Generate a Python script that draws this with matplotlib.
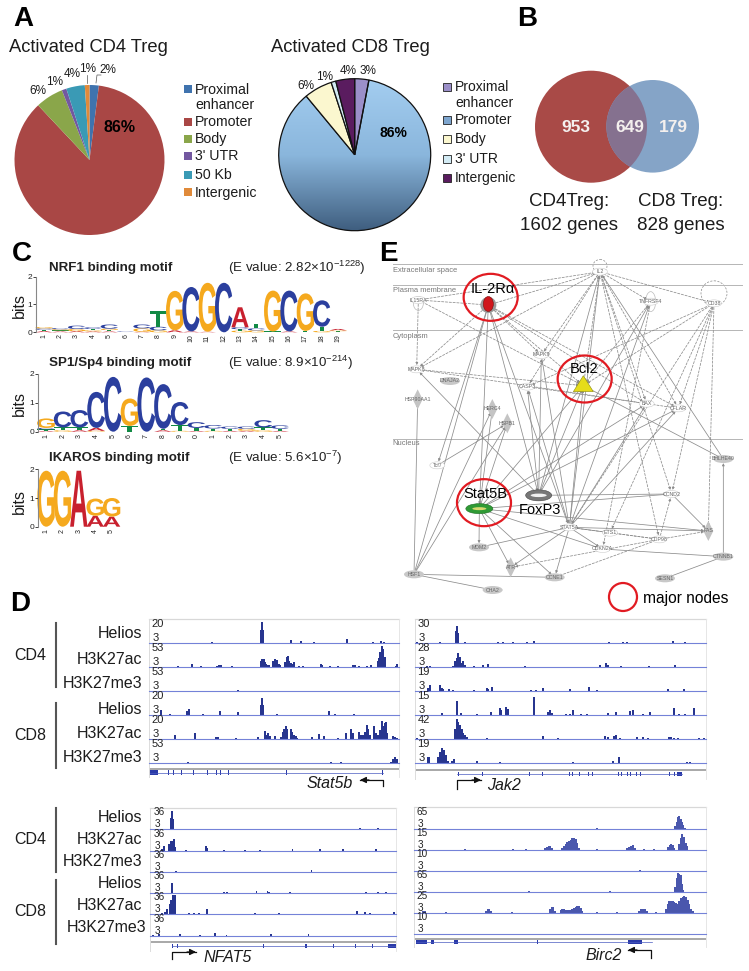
import numpy as np
import matplotlib
matplotlib.use('Agg')
import matplotlib.pyplot as plt
from matplotlib.patches import Circle, Ellipse, Rectangle, PathPatch, Polygon
from matplotlib.textpath import TextPath
from matplotlib.font_manager import FontProperties
from matplotlib.transforms import Affine2D

plt.rcParams['font.family'] = ['Liberation Sans', 'DejaVu Sans']
plt.rcParams['mathtext.fontset'] = 'custom'
plt.rcParams['mathtext.rm'] = 'Liberation Sans'
plt.rcParams['mathtext.default'] = 'rm'

W, H = 749, 971
DARK = '#1c1c1c'

# ---------- Panel A data
pie_cd4_labels = ['Proximal\nenhancer', 'Promoter', 'Body', "3' UTR", '50 Kb', 'Intergenic']
pie_cd4_values = [2, 86, 6, 1, 4, 1]
pie_cd4_colors = ['#3f73ae', '#a94745', '#8aa64a', '#7358a0', '#3a9ab5', '#e08a3a']
pie_cd8_labels = ['Proximal\nenhancer', 'Promoter', 'Body', "3' UTR", 'Intergenic']
pie_cd8_values = [3, 86, 6, 1, 4]
pie_cd8_colors = ['#9b8fc9', '#7ea6cf', '#fbf7cf', '#d3ebf4', '#5a1c5f']

# ---------- Panel B data
venn_counts = [953, 649, 179]

# ---------- Panel C data (bits, stacked bottom to top)
logo_nrf1 = [
    [('A', .04), ('T', .05), ('C', .05), ('G', .05)],
    [('A', .03), ('T', .04), ('G', .04), ('C', .04)],
    [('A', .04), ('G', .08), ('C', .12)],
    [('A', .03), ('G', .04), ('T', .05), ('C', .06)],
    [('A', .03), ('T', .05), ('G', .05), ('C', .15)],
    [('T', .01), ('C', .02)],
    [('A', .02), ('G', .12), ('C', .14)],
    [('G', .07), ('C', .13), ('T', .55)],
    [('A', .07), ('G', 1.42)],
    [('A', .03), ('C', 1.6)],
    [('A', .02), ('G', 1.76)],
    [('C', 1.78)],
    [('G', .06), ('T', .05), ('C', .07), ('A', .72)],
    [('G', .07), ('C', .07), ('T', .17)],
    [('T', .03), ('G', 1.47)],
    [('A', .03), ('C', 1.47)],
    [('T', .05), ('G', 1.35)],
    [('G', .05), ('T', .15), ('C', .95)],
    [('T', .04), ('G', .03), ('A', .05)],
]
logo_sp1 = [
    [('A', .03), ('T', .05), ('C', .05), ('G', .33)],
    [('G', .05), ('T', .1), ('C', .55)],
    [('A', .05), ('T', .1), ('C', .6)],
    [('G', .03), ('A', .1), ('C', 1.25)],
    [('C', 1.9)],
    [('T', .2), ('G', .95)],
    [('C', 1.88)],
    [('A', .05), ('T', .05), ('C', 1.55)],
    [('G', .03), ('T', .2), ('C', .8)],
    [('A', .03), ('T', .1), ('C', .2)],
    [('G', .03), ('T', .08), ('C', .12)],
    [('A', .03), ('T', .07), ('C', .08)],
    [('A', .03), ('G', .07), ('C', .08)],
    [('G', .05), ('T', .1), ('C', .25)],
    [('A', .03), ('T', .07), ('C', .12)],
]
logo_ikaros = [
    [('G', 1.95)], [('G', 1.95)], [('A', 1.95)],
    [('A', .38), ('G', .6)], [('A', .35), ('G', .65)],
]
logo_sp1_ticks = ['1', '2', '3', '4', '5', '6', '7', '8', '9', '0', '1', '2', '3', '4', '5']
motif_titles = ['NRF1 binding motif', 'SP1/Sp4 binding motif', 'IKAROS binding motif']
motif_evalues = [r'(E value: 2.82$\times$10$^{-1228}$)', r'(E value: 8.9$\times$10$^{-214}$)', r'(E value: 5.6$\times$10$^{-7}$)']

# ---------- Panel D data: (position, signal) read from each browser track
stat5b_tracks = [
    [(600, 1), (635, 3), (762, 1), (783, 40), (785, 64), (788, 40), (872, 8), (904, 5), (942, 2), (1042, 11), (1118, 4), (1142, 5), (1152, 2)],
    [(533, 4), (547, 2), (577, 9), (604, 5), (650, 3), (657, 6), (663, 6), (695, 5), (708, 2), (740, 1), (782, 18), (787, 25), (791, 25), (795, 15), (799, 10), (803, 7), (808, 7), (820, 18), (825, 26), (830, 22), (836, 10), (840, 8), (855, 15), (860, 30), (864, 33), (868, 20), (873, 13), (878, 10), (883, 17), (897, 4), (910, 4), (962, 10), (966, 6), (990, 4), (1015, 3), (1058, 6), (1064, 8), (1077, 5), (1100, 3), (1112, 6), (1133, 20), (1137, 28), (1141, 45), (1146, 65), (1150, 55), (1154, 30), (1188, 5), (1192, 9)],
    [(680, 1), (713, 4)],
    [(483, 16), (510, 4), (562, 14), (566, 20), (610, 3), (660, 14), (714, 9), (783, 30), (785, 52), (788, 30), (831, 4), (870, 2), (988, 12), (1005, 3), (1062, 3)],
    [(524, 12), (555, 2), (585, 20), (648, 8), (653, 6), (708, 3), (775, 8), (795, 25), (800, 14), (805, 18), (810, 10), (826, 10), (843, 8), (848, 22), (852, 30), (857, 40), (861, 30), (872, 32), (877, 22), (882, 12), (888, 10), (892, 5), (937, 7), (958, 16), (972, 10), (1013, 5), (1038, 18), (1054, 30), (1060, 18), (1076, 22), (1082, 12), (1090, 12), (1095, 22), (1100, 42), (1104, 30), (1110, 12), (1122, 40), (1128, 20), (1134, 14), (1140, 28), (1146, 56), (1150, 40), (1154, 50), (1158, 52), (1162, 20), (1178, 10), (1185, 6), (1192, 5)],
    [(565, 3), (992, 3), (1022, 3), (1060, 2), (1172, 4), (1180, 12), (1186, 20), (1192, 12)],
]
jak2_tracks = [
    [(50, 4), (120, 3), (168, 35), (171, 52), (174, 30), (195, 3), (295, 2), (308, 2), (340, 2), (380, 2), (402, 7), (628, 2), (670, 4), (680, 2), (818, 6), (855, 2)],
    [(80, 3), (90, 3), (158, 5), (165, 18), (170, 28), (175, 42), (180, 30), (185, 12), (190, 18), (195, 6), (222, 5), (248, 6), (263, 10), (290, 2), (352, 2), (375, 3), (485, 2), (600, 6), (618, 12), (623, 6), (647, 2), (664, 3), (748, 3), (780, 1), (825, 7)],
    [(85, 10), (90, 18), (120, 20), (125, 10), (130, 6), (148, 7), (158, 3), (222, 5), (260, 9), (265, 7), (275, 13), (392, 4), (407, 3), (430, 10), (511, 6), (566, 12), (590, 3), (804, 8), (852, 6), (892, 2)],
    [(125, 8), (170, 42), (183, 8), (207, 2), (230, 3), (272, 10), (300, 22), (304, 16), (318, 24), (323, 20), (402, 55), (445, 9), (450, 15), (455, 8), (497, 4), (510, 5), (519, 16), (543, 4), (560, 5), (624, 8), (648, 9), (690, 14), (698, 16), (730, 3), (750, 10), (787, 2), (822, 22), (836, 4), (855, 3), (865, 2), (881, 22)],
    [(50, 3), (165, 30), (170, 60), (175, 52), (180, 42), (185, 30), (190, 20), (195, 14), (200, 8), (260, 4), (300, 2), (320, 2), (348, 2), (428, 9), (473, 5), (615, 9), (625, 6), (642, 9), (647, 12), (660, 4), (695, 2), (712, 6), (730, 6), (745, 3), (806, 7), (812, 8), (822, 4), (835, 3), (870, 2), (898, 4), (912, 3)],
    [(83, 20), (88, 18), (115, 20), (120, 35), (125, 45), (130, 22), (133, 40), (138, 25), (145, 6), (155, 6), (162, 12), (183, 2), (230, 6), (300, 4), (386, 2), (520, 3), (640, 8), (656, 18), (835, 2), (862, 5), (870, 5)],
]
nfat5_tracks = [
    [(513, 35), (516, 55), (519, 30), (948, 1), (1033, 2), (1079, 3), (1134, 4)],
    [(486, 5), (494, 14), (509, 20), (513, 28), (518, 30), (522, 36), (527, 10), (560, 2), (618, 14), (622, 8), (673, 1), (735, 1), (780, 3), (878, 5), (960, 4), (1030, 6), (1129, 5)],
    [(530, 3), (808, 1), (890, 1), (935, 7)],
    [(516, 32), (578, 2), (640, 2), (650, 2), (672, 3), (682, 4), (770, 6), (803, 8), (808, 4), (822, 2), (870, 4), (942, 2), (1098, 4), (1134, 5), (1158, 4)],
    [(488, 3), (495, 6), (503, 16), (510, 30), (515, 44), (520, 58), (525, 58), (568, 3), (582, 3), (598, 3), (622, 15), (640, 2), (740, 2), (765, 3), (780, 2), (837, 5), (1072, 10), (1096, 8), (1110, 3), (1182, 7)],
    [(460, 1), (478, 6), (540, 4), (600, 3), (645, 7), (680, 2), (813, 5), (926, 4)],
]
birc2_tracks = [
    [(590, 1), (826, 8), (830, 20), (834, 34), (838, 38), (842, 30), (846, 20), (850, 10), (854, 3)],
    [(196, 2), (340, 2), (378, 2), (436, 4), (441, 9), (446, 12), (451, 10), (456, 5), (487, 4), (492, 12), (497, 18), (502, 22), (507, 26), (512, 30), (517, 34), (522, 36), (527, 32), (532, 20), (537, 6), (590, 3), (680, 6), (686, 9), (692, 11), (698, 13), (704, 6), (732, 3), (761, 2), (804, 8), (809, 14), (813, 18), (818, 14), (823, 6), (837, 18), (842, 34), (847, 46), (852, 38), (857, 20), (862, 10)],
    [(720, 2)],
    [(388, 1), (630, 3), (826, 14), (830, 40), (834, 56), (838, 54), (842, 50), (846, 22), (850, 6)],
    [(70, 6), (75, 4), (138, 3), (258, 6), (263, 12), (268, 10), (273, 4), (336, 2), (450, 12), (455, 18), (460, 17), (465, 5), (482, 8), (487, 12), (492, 12), (497, 9), (502, 8), (507, 8), (512, 9), (517, 10), (522, 14), (527, 16), (532, 20), (537, 20), (542, 14), (546, 5), (590, 2), (650, 2), (716, 6), (722, 10), (728, 12), (734, 10), (740, 5), (769, 2), (798, 10), (803, 26), (808, 34), (813, 36), (818, 34), (823, 32), (828, 28), (833, 26), (838, 36), (843, 44), (848, 48), (853, 50), (858, 48), (863, 38), (868, 26), (873, 12), (878, 4)],
    [],
]
stat5b_scale = ['20', '53', '53', '20', '20', '53']
jak2_scale = ['30', '28', '19', '15', '42', '19']
nfat5_scale = ['36', '36', '36', '36', '36', '36']
birc2_scale = ['65', '15', '10', '65', '25', '10']
stat5b_exons = [(460, 26), (505, 2), (520, 2), (545, 2), (580, 2), (600, 2), (606, 2), (612, 2), (618, 2), (622, 2), (650, 2), (662, 2), (685, 2), (720, 2), (860, 5), (1148, 2)]
jak2_exons = [(175, 3), (248, 2), (288, 2), (388, 2), (428, 2), (447, 2), (508, 2), (518, 2), (528, 2), (538, 2), (552, 2), (566, 2), (578, 2), (606, 2), (618, 2), (645, 2), (655, 2), (665, 2), (683, 3), (692, 3), (710, 3), (722, 3), (808, 2), (822, 3), (838, 14)]
nfat5_exons = [(518, 4), (533, 3), (792, 2), (918, 5), (972, 2), (1000, 2), (1032, 2), (1066, 3), (1092, 2), (1117, 2), (1177, 23)]
birc2_exons = [(64, 32), (80, 4), (99, 9), (168, 10), (357, 2), (412, 2), (706, 42)]

# ---------- Panel E data (node name, x, y, kind)
net_nodes = {
    'IL2': (660, 95, 'open'), 'IL15RA': (115, 180, 'open'), 'IL2RA': (325, 195, 'red'),
    'TNFRSF4': (812, 185, 'open'), 'CD38': (1002, 190, 'open'), 'MAPK9': (484, 345, 'open'),
    'MAPK8': (110, 388, 'open'), 'DNAJA2': (210, 423, 'gray'), 'CASP3': (442, 440, 'open'),
    'BCL2': (610, 437, 'yellow'), 'HSP90AA1': (113, 478, 'diamond'), 'HERC4': (337, 507, 'diamond'),
    'HSPB1': (382, 550, 'diamond'), 'BAX': (800, 491, 'open'), 'CFLAR': (895, 505, 'open'),
    'Tcf7': (172, 676, 'open'), 'BHLHE40': (1030, 657, 'gray'), 'FOXP3': (476, 766, 'foxp3'),
    'STAT5B': (298, 806, 'green'), 'CCND2': (875, 762, 'open'), 'STAT5A': (568, 862, 'open'),
    'ETS1': (690, 878, 'open'), 'FAS': (985, 873, 'diamond'), 'CDP98': (838, 898, 'open'),
    'MDM2': (297, 922, 'gray'), 'CDKN2A': (668, 927, 'open'), 'ATR': (392, 982, 'diamond'),
    'CTNNB1': (1030, 950, 'gray'), 'CCNE1': (524, 1012, 'gray'), 'HSF1': (102, 1003, 'gray'),
    'CHA2': (338, 1050, 'gray'), 'SESN1': (855, 1015, 'gray'),
}
net_hidden_labels = ['IL2RA', 'BCL2', 'STAT5B', 'FOXP3']
net_solid = [
    ('IL2RA', 'Tcf7'), ('IL2RA', 'STAT5B'), ('IL2RA', 'FOXP3'), ('HSF1', 'IL2RA'), ('HSF1', 'HSP90AA1'),
    ('HSF1', 'CCNE1'), ('HSF1', 'CHA2'), ('HSF1', 'HERC4'), ('HSF1', 'HSPB1'), ('Tcf7', 'HSPB1'),
    ('STAT5B', 'BCL2'), ('STAT5B', 'HSPB1'), ('STAT5B', 'BAX'), ('STAT5B', 'CFLAR'), ('STAT5B', 'MDM2'),
    ('STAT5B', 'ATR'), ('STAT5B', 'CCNE1'), ('STAT5B', 'CDKN2A'), ('STAT5B', 'CCND2'), ('STAT5B', 'FAS'),
    ('STAT5B', 'HERC4'), ('FOXP3', 'MAPK8'), ('FOXP3', 'BCL2'), ('FOXP3', 'IL2'), ('FOXP3', 'TNFRSF4'),
    ('FOXP3', 'CASP3'), ('STAT5A', 'BCL2'), ('STAT5A', 'IL2'), ('STAT5A', 'TNFRSF4'), ('STAT5A', 'BAX'),
    ('STAT5A', 'CFLAR'), ('STAT5A', 'CASP3'), ('STAT5A', 'MDM2'), ('STAT5A', 'ATR'), ('STAT5A', 'CCNE1'),
    ('STAT5A', 'ETS1'), ('STAT5A', 'FAS'), ('STAT5A', 'CDKN2A'), ('BHLHE40', 'BCL2'), ('BHLHE40', 'IL2'),
    ('CTNNB1', 'BHLHE40'), ('CTNNB1', 'CDKN2A'), ('CTNNB1', 'SESN1'), ('CCND2', 'FAS'), ('MAPK9', 'STAT5A'),
    ('FOXP3', 'MAPK9'), ('FOXP3', 'CCND2'), ('IL2RA', 'STAT5A'),
]
net_dashed = [
    ('IL2RA', 'IL2'), ('IL15RA', 'IL2'), ('IL15RA', 'IL2RA'), ('IL15RA', 'MAPK8'), ('IL15RA', 'BCL2'),
    ('IL2RA', 'MAPK8'), ('IL2RA', 'MAPK9'), ('IL2RA', 'BCL2'), ('IL2RA', 'CFLAR'), ('IL2RA', 'BAX'),
    ('IL2', 'MAPK8'), ('IL2', 'MAPK9'), ('IL2', 'TNFRSF4'), ('IL2', 'CD38'), ('IL2', 'CASP3'),
    ('IL2', 'BCL2'), ('IL2', 'BAX'), ('IL2', 'CFLAR'), ('IL2', 'CDP98'), ('IL2', 'CCND2'),
    ('CD38', 'BCL2'), ('CD38', 'CASP3'), ('CD38', 'CFLAR'), ('CD38', 'CCND2'), ('CD38', 'FAS'),
    ('CD38', 'ETS1'), ('CD38', 'STAT5A'), ('TNFRSF4', 'BCL2'), ('TNFRSF4', 'CDKN2A'), ('MAPK8', 'BCL2'),
    ('CFLAR', 'MAPK8'), ('CDP98', 'CCND2'), ('CDP98', 'ETS1'), ('CDP98', 'FAS'), ('CDP98', 'ATR'),
    ('CDP98', 'CCNE1'), ('CDP98', 'STAT5A'), ('BAX', 'CASP3'),
]
net_compartments = ['Extracellular space', 'Plasma membrane', 'Cytoplasm', 'Nucleus']

# ---------- Figure
fig = plt.figure(figsize=(W / 100, H / 100), dpi=100, facecolor='white')


def axes_px(x0, y0, x1, y1, **kw):
    return fig.add_axes([x0 / W, 1 - y1 / H, (x1 - x0) / W, (y1 - y0) / H], **kw)


ov = axes_px(0, 0, W, H)
ov.set_xlim(0, W)
ov.set_ylim(H, 0)
ov.axis('off')
ov.set_zorder(5)
ov.patch.set_alpha(0)


def T(x, y, s, size=10, ha='left', va='center', **kw):
    kw.setdefault('color', DARK)
    return ov.text(x, y, s, fontsize=size, ha=ha, va=va, **kw)


for letter, lx, ly in [('A', 23, 19), ('B', 527, 19), ('C', 22, 254), ('D', 20, 604), ('E', 388, 254)]:
    T(lx, ly, letter, size=20, ha='center', weight='bold', color='black')


# ---------- Panel A
def make_pie(cx, cy, r, values, colors, edge):
    a = axes_px(cx - r * 1.25, cy - r * 1.25, cx + r * 1.25, cy + r * 1.25)
    wedges, _ = a.pie(values, colors=colors, startangle=90, counterclock=False, radius=1,
                      wedgeprops=dict(edgecolor=edge, linewidth=0.9 if edge != 'none' else 0))
    a.set_xlim(-1.25, 1.25)
    a.set_ylim(-1.25, 1.25)
    return a, wedges


a1, _ = make_pie(89.5, 160, 75, pie_cd4_values, pie_cd4_colors, 'none')
a2, w2 = make_pie(354.7, 154.7, 76, pie_cd8_values, pie_cd8_colors, '#111111')
grad = np.linspace(0, 1, 200)[:, None]
cmap = matplotlib.colors.LinearSegmentedColormap.from_list('g', ['#a3cdf0', '#8ab6dc', '#3f5e7f'])
im = a2.imshow(grad, extent=[-1, 1, -1, 1], cmap=cmap, aspect='auto', origin='upper', zorder=0.5)
w2[1].set_facecolor('none')
im.set_clip_path(w2[1])
a2.set_xlim(-1.25, 1.25)
a2.set_ylim(-1.25, 1.25)

T(9, 47, 'Activated CD4 Treg', size=13.2)
T(271, 47, 'Activated CD8 Treg', size=13.2)

for s, x, y in [('6%', 38, 91), ('1%', 55, 82), ('4%', 72, 74), ('1%', 88, 69), ('2%', 108, 70)]:
    T(x, y, s, size=8.5, ha='center')
ov.plot([86.5, 86.5], [75, 83], color='#555', lw=0.5)
ov.plot([96, 97, 101], [83, 75, 75], color='#555', lw=0.5)
T(120, 127, '86%', size=11.5, ha='center', weight='bold', color='black')
for s, x, y in [('6%', 306, 86), ('1%', 325, 77), ('4%', 348, 71), ('3%', 368, 71)]:
    T(x, y, s, size=8.5, ha='center')
T(393.5, 133, '86%', size=10, ha='center', weight='bold', color='black')

leg1_y = [89, 122, 139, 156.5, 175, 192.5]
for lab, col, y in zip(pie_cd4_labels, pie_cd4_colors, leg1_y):
    ov.add_patch(Rectangle((184, y - 4), 8, 8, fc=col, ec='none'))
    T(195, y + (8.5 if '\n' in lab else 0), lab, size=10.2, linespacing=1.15)
leg2_y = [87, 120, 139, 159, 178]
for lab, col, y in zip(pie_cd8_labels, pie_cd8_colors, leg2_y):
    ov.add_patch(Rectangle((443, y - 4), 8, 8, fc=col, ec='#222', lw=0.6))
    T(455, y + (8 if '\n' in lab else 0), lab, size=10, linespacing=1.12)

# ---------- Panel B
vn = axes_px(520, 60, 720, 190)
vn.set_xlim(520, 720)
vn.set_ylim(190, 60)
vn.axis('off')
vn.add_patch(Circle((591, 126.7), 56, fc='#a94a47', ec='none'))
vn.add_patch(Circle((652.7, 126.3), 46.3, fc='#85a4c7', ec='none'))
c_clip = Circle((591, 126.7), 56, transform=vn.transData)
ovl = Circle((652.7, 126.3), 46.3, fc='#85718f', ec='none')
vn.add_patch(ovl)
ovl.set_clip_path(c_clip)
for val, x in zip(venn_counts, [576, 630, 673]):
    T(x, 127.5, str(val), size=12.5, ha='center', weight='bold', color='#f4f0ee')
T(569, 202, 'CD4Treg:', size=13.5, ha='center')
T(569, 226, '1602 genes', size=13.5, ha='center')
T(681, 202, 'CD8 Treg:', size=13.5, ha='center')
T(681, 226, '828 genes', size=13.5, ha='center')

# ---------- Panel C
LETTER_COL = {'A': '#c8202e', 'C': '#2b3f9e', 'G': '#f5a91e', 'T': '#128a45'}
fp_bold = FontProperties(family='Liberation Sans', weight='bold')


def draw_logo(rect, stacks, ticklabels=None):
    a = axes_px(*rect)
    n = len(stacks)
    a.set_xlim(0.5, n + 0.5)
    a.set_ylim(0, 2)
    a.patch.set_alpha(0)
    for sp in ['top', 'right']:
        a.spines[sp].set_visible(False)
    a.spines['bottom'].set_visible(False)
    a.spines['left'].set_color('#888888')
    a.spines['left'].set_linewidth(0.8)
    a.set_yticks([0, 1, 2])
    a.set_xticks(range(1, n + 1))
    a.set_xticklabels(ticklabels or [str(i) for i in range(1, n + 1)], rotation=90)
    a.tick_params(axis='y', labelsize=6, length=2, width=0.6, pad=0.5, colors='#222222')
    a.tick_params(axis='x', labelsize=5, length=0, pad=1.5, colors='#222222')
    for i, st in enumerate(stacks, start=1):
        base = 0
        for ch, h in st:
            tp = TextPath((0, 0), ch, size=1, prop=fp_bold)
            bb = tp.get_extents()
            tr = (Affine2D().translate(-bb.x0, -bb.y0).scale(1.06 / bb.width, h / bb.height)
                  .translate(i - 0.53, base))
            a.add_patch(PathPatch(tr.transform_path(tp), fc=LETTER_COL[ch], ec='none', clip_on=False))
            base += h
    return a


draw_logo((35.8, 276.7, 346.2, 332.3), logo_nrf1)
draw_logo((37.6, 374, 288.4, 431.7), logo_sp1, logo_sp1_ticks)
draw_logo((37.8, 469.3, 119.8, 526.7), logo_ikaros)
for s, e, y in zip(motif_titles, motif_evalues, [267.5, 363, 458]):
    T(49, y, s, size=9.6, weight='bold', color='#222222')
    T(228, y, e, size=9.6, color='#222222')
for y in [306, 403, 502]:
    T(19, y, 'bits', size=11.5, ha='center', rotation=90)

# ---------- Panel D
TRACK_BLUE = '#27358f'
BASE_BLUE = '#7482d8'


def draw_block(x0, x1, zx0, zx1, top, baselines, tracks, scale, numx, numoff, barw, color,
               band_y, gene_y, exons, gene_span, numsize):
    ov.plot([x0, x1], [top, top], color='#d8d8d8', lw=0.9)
    ov.plot([x0, x0], [top, gene_y + 5], color='#dcdcdc', lw=0.7)
    ov.plot([x1, x1], [top, gene_y + 5], color='#e6e6e6', lw=0.7)
    step = baselines[1] - baselines[0]
    for tr, base, lab in zip(tracks, baselines, scale):
        a = axes_px(x0, base - step + 1, x1, base)
        a.set_xlim(zx0, zx1)
        a.set_ylim(0, (step - 1) * 3)
        a.axis('off')
        if tr:
            xs, hs = zip(*tr)
            a.bar(xs, hs, width=barw, color=color, linewidth=0)
        ov.plot([x0, x1], [base, base], color=BASE_BLUE, lw=0.8)
        T(numx, base - numoff[0], lab, size=numsize, color='#222222')
        T(numx + 1, base - numoff[1], '3', size=numsize, color='#222222')
    ov.add_patch(Rectangle((x0, band_y - 1), x1 - x0, 2.2, fc='#aaaaaa', ec='none'))
    g = axes_px(x0, gene_y - 3, x1, gene_y + 3)
    g.set_xlim(zx0, zx1)
    g.set_ylim(-1, 1)
    g.axis('off')
    g.plot(gene_span, [0, 0], color='#4a5ac0', lw=0.5)
    ex_, wd = zip(*exons)
    g.bar(ex_, [1.4] * len(ex_), width=wd, bottom=-0.7, color='#2a3aa8', linewidth=0)


b1 = [643, 667.3, 691.3, 715.3, 739.3, 763.3]
draw_block(149, 399, 447, 1197, 619, b1, stat5b_tracks, stat5b_scale, 151.5, (19, 5), 5.5, TRACK_BLUE,
           768.7, 772.5, stat5b_exons, (447, 1150), 8.0)
draw_block(414.7, 706, 44, 918, 619, b1, jak2_tracks, jak2_scale, 417.5, (19, 5), 5.5, TRACK_BLUE,
           770, 774.3, jak2_exons, (172, 845), 8.0)
b3 = [829.3, 850.7, 872, 893.3, 914.3, 935.7]
draw_block(150, 396, 451, 1188, 808, b3, nfat5_tracks, nfat5_scale, 153.5, (17, 5), 5.5, TRACK_BLUE,
           941.7, 945.7, nfat5_exons, (516, 1188), 7.2)
b4 = [828.7, 849.7, 870.7, 891.7, 912.7, 933.7]
draw_block(414.3, 706, 43, 918, 807, b4, birc2_tracks, birc2_scale, 416.5, (17, 5), 6, '#4a57ad',
           938.7, 942, birc2_exons, (47, 757), 7.2)

for (y0, y1) in [(623, 687), (703, 768), (808, 872), (880, 944)]:
    ov.plot([56, 56], [y0, y1], color='#555555', lw=1.5)
for s, y in [('CD4', 655), ('CD8', 735), ('CD4', 839), ('CD8', 911)]:
    T(30, y, s, size=11.5, ha='center')
row_names = ['Helios', 'H3K27ac', 'H3K27me3'] * 2
for s, y in zip(row_names, [634, 659, 683, 709, 733, 758]):
    T(142.5, y, s, size=11.5, ha='right')
for s, y, xr in zip(row_names, [818, 840, 862, 884, 906, 927], [142.5] * 5 + [146]):
    T(xr, y, s, size=11.5, ha='right')


def gene_arrow(pts):
    (x0, y0), (x1, y1), (x2, y2) = pts
    ov.plot([x0, x1, x2], [y0, y1, y2], color='#111111', lw=0.9)
    ov.annotate('', xy=(x2, y2), xytext=(x2 + (-9 if x2 > x1 else 9), y2),
                arrowprops=dict(arrowstyle='-|>', color='#111111', lw=0.9, mutation_scale=9,
                                shrinkA=0, shrinkB=0))


gene_arrow([(383, 786), (383, 780), (360, 780)])
gene_arrow([(457, 789), (457, 780), (481, 780)])
gene_arrow([(172, 959), (172, 952), (196, 952)])
gene_arrow([(651, 958), (651, 950), (628, 950)])
T(307, 783, 'Stat5b', size=11.5, style='italic')
T(487, 786, 'Jak2', size=11.5, style='italic')
T(204, 958, 'NFAT5', size=11.5, style='italic')
T(585, 955, 'Birc2', size=11.5, style='italic')

# ---------- Panel E
ex = lambda z: 380 + z / 3
ey = lambda z: 240 + z / 3
for yz in [72, 136, 271, 597]:
    ov.plot([ex(38), ex(1085)], [ey(yz), ey(yz)], color='#b5b5b5', lw=0.7)
for s, yz in zip(net_compartments, [93, 153, 291, 611]):
    T(ex(38), ey(yz), s, size=5.4, color='#777777')

for edges, ls in [(net_solid, '-'), (net_dashed, (0, (3, 2)))]:
    for a_, b_ in edges:
        xa, ya, _ = net_nodes[a_]
        xb, yb, _ = net_nodes[b_]
        ov.annotate('', xy=(ex(xb), ey(yb)), xytext=(ex(xa), ey(ya)),
                    arrowprops=dict(arrowstyle='-|>', color='#8c8c8c', lw=0.55, linestyle=ls,
                                    mutation_scale=3.5, shrinkA=3, shrinkB=3))
ov.add_patch(Ellipse((ex(660), ey(78)), 14, 13, fc='none', ec='#888', lw=0.5, ls=(0, (3, 2))))
ov.add_patch(Ellipse((ex(1002), ey(160)), 26, 25, fc='none', ec='#888', lw=0.5, ls=(0, (3, 2))))
ov.add_patch(Ellipse((ex(115), ey(190)), 10, 14, fc='none', ec='#bbb', lw=0.5))
ov.add_patch(Ellipse((ex(812), ey(185)), 10, 20, fc='none', ec='#bbb', lw=0.5))

for name, (xz, yz, kind) in net_nodes.items():
    x, y = ex(xz), ey(yz)
    if kind == 'open':
        ov.add_patch(Ellipse((x, y), 15, 7, fc='white', ec='#cccccc', lw=0.4, zorder=3))
    elif kind == 'gray':
        ov.add_patch(Ellipse((x, y), 20, 8, fc='#c8c8c8', ec='none', zorder=3))
    elif kind == 'diamond':
        ov.add_patch(Polygon([(x, y - 10), (x + 5, y), (x, y + 10), (x - 5, y)], fc='#c4c4c4', ec='none', zorder=3))
    elif kind == 'red':
        ov.add_patch(Ellipse((x, y), 16, 16, fc='#9a9a9a', ec='none', zorder=3))
        ov.add_patch(Ellipse((x, y - 1), 10, 15, fc='#d0161b', ec='#7a0a0a', lw=0.4, zorder=3.1))
    elif kind == 'yellow':
        ov.add_patch(Polygon([(x, y - 10), (x + 10, y + 6), (x - 10, y + 6)], fc='#e6dc1a', ec='#8a8a10', lw=0.4, zorder=3))
    elif kind == 'green':
        ov.add_patch(Ellipse((x, y), 27, 10, fc='#2f9a35', ec='#1c6d22', lw=0.4, zorder=3))
        ov.add_patch(Ellipse((x, y), 14, 3, fc='#d8d870', ec='none', zorder=3.1))
    elif kind == 'foxp3':
        ov.add_patch(Ellipse((x, y), 26, 11, fc='#777777', ec='#444', lw=0.4, zorder=3))
        ov.add_patch(Ellipse((x, y), 16, 3.5, fc='#f0f0f0', ec='none', zorder=3.1))
    if name not in net_hidden_labels:
        T(x, y, name, size=3.8, ha='center', color='#666666', zorder=4)

for xz, yz in [(332, 172), (614, 417), (312, 788)]:
    ov.add_patch(Ellipse((ex(xz), ey(yz)), 54, 47, fc='none', ec='#e11b22', lw=1.6, zorder=4))
ov.add_patch(Circle((623, 597), 14, fc='none', ec='#e11b22', lw=1.6, zorder=4))
T(ex(337), ey(148), 'IL-2R\u03b1', size=10.5, ha='center', color='black', zorder=5)
T(ex(611), ey(386), 'Bcl2', size=10.5, ha='center', color='black', zorder=5)
T(ex(315), ey(762), 'Stat5B', size=10.5, ha='center', color='black', zorder=5)
T(ex(479), ey(809), 'FoxP3', size=10.5, ha='center', color='black', zorder=5)
T(643, 599, 'major nodes', size=11.2, color='black')

fig.savefig('out.png', dpi=100, facecolor='white')
